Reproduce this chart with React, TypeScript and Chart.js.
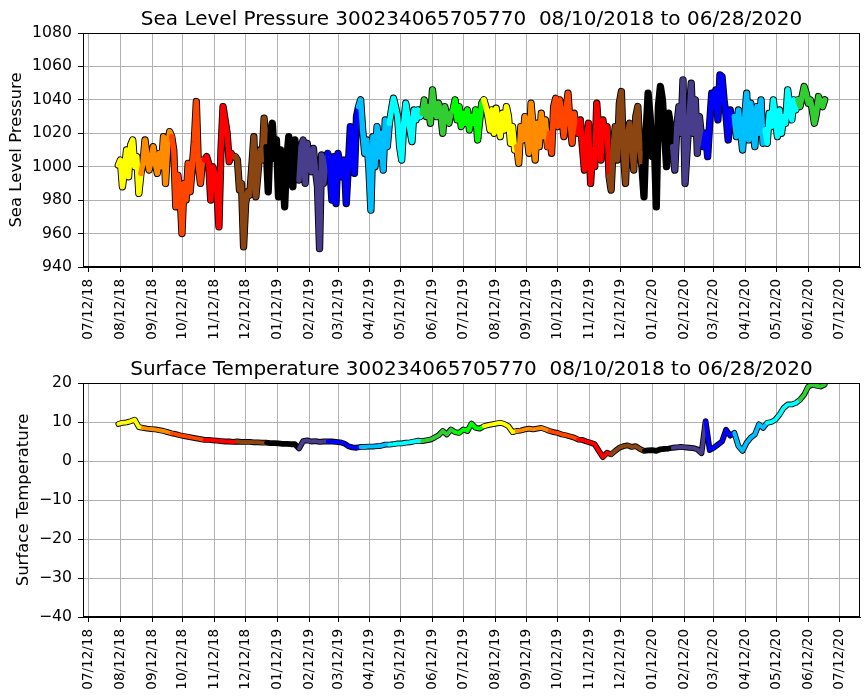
import { useEffect, useRef } from 'react';
import { Chart, registerables } from 'chart.js';

Chart.register(...registerables);

const FONT = "'DejaVu Sans', 'Liberation Sans', sans-serif";

const buoyId = '300234065705770';
const periodText = '08/10/2018 to 06/28/2020';
const pressureStepDays = 2;
const temperatureStepDays = 4;

// matplotlib colours, index 0 = January
const monthColors = [
  '#000000', '#483D8B', '#0000FF', '#00BFFF', '#00FFFF', '#32CD32',
  '#00FF00', '#FFFF00', '#FF8C00', '#FF4500', '#FF0000', '#8B4513',
];

const xTickLabels = [
  '07/12/18', '08/12/18', '09/12/18', '10/12/18', '11/12/18', '12/12/18',
  '01/12/19', '02/12/19', '03/12/19', '04/12/19', '05/12/19', '06/12/19',
  '07/12/19', '08/12/19', '09/12/19', '10/12/19', '11/12/19', '12/12/19',
  '01/12/20', '02/12/20', '03/12/20', '04/12/20', '05/12/20', '06/12/20',
  '07/12/20',
];

const pressureTicks = [940, 960, 980, 1000, 1020, 1040, 1060, 1080];
const temperatureTicks = [-40, -30, -20, -10, 0, 10, 20];

// Sea level pressure, every 2 days from 08/10/2018
const pressure = [
  // Aug 2018
  1001, 1004, 988, 998, 1010, 994, 1013, 1016, 1000, 1006, 984,
  // Sep 2018
  996, 1002, 1016, 1006, 998, 1004, 1012, 1002, 996, 1008, 1000, 1018, 990, 1012, 1021,
  // Oct 2018
  1018, 1010, 976, 995, 985, 960, 990, 980, 1002, 985, 1000, 1015, 1039, 1000, 990, 1004,
  // Nov 2018
  1004, 1006, 1002, 980, 1000, 996, 985, 964, 1010, 1036, 1028, 1020, 1003, 1008, 1006,
  // Dec 2018
  1006, 1004, 986, 990, 952, 978, 985, 983, 1000, 1018, 982, 996, 1010, 1004, 1029,
  // Jan 2019
  1012, 985, 1020, 1026, 1005, 1016, 982, 1010, 1000, 976, 1004, 1018, 995, 988, 1016, 1002,
  // Feb 2019
  992, 1012, 1016, 990, 1014, 1004, 997, 1011, 998, 988, 951, 1007, 990, 1000,
  // Mar 2019
  1008, 1000, 980, 1006, 978, 1008, 1000, 994, 1004, 978, 1000, 1024, 1008, 996, 1030,
  // Apr 2019
  1036, 1040, 1022, 1008, 1016, 1000, 974, 1018, 1000, 1024, 1006, 1020, 998, 1028, 1012,
  // May 2019
  1026, 1034, 1041, 1036, 1030, 1012, 1004, 1026, 1038, 1030, 1022, 1015, 1034, 1028, 1034, 1030,
  // Jun 2019
  1032, 1040, 1030, 1036, 1026, 1046, 1034, 1030, 1038, 1032, 1020, 1036, 1030, 1026, 1032,
  // Jul 2019
  1034, 1040, 1028, 1036, 1024, 1032, 1026, 1034, 1022, 1030, 1026, 1034, 1016, 1028, 1038,
  // Aug 2019
  1040, 1036, 1030, 1022, 1034, 1020, 1035, 1026, 1018, 1032, 1022, 1036, 1030, 1014, 1024, 1010,
  // Sep 2019
  1012, 1002, 1024, 1016, 1030, 1020, 1008, 1038, 1024, 1004, 1026, 1012, 1032, 1018, 1028,
  // Oct 2019
  1012, 1020, 1008, 1036, 1041, 1024, 1040, 1030, 1018, 1034, 1044, 1026, 1014, 1032, 1022,
  // Nov 2019
  1020, 1028, 1012, 998, 1016, 1026, 990, 1010, 1000, 1038, 1020, 1004, 1028, 1018, 1024,
  // Dec 2019
  994, 986, 1012, 1024, 1004, 1038, 1045, 1008, 990, 1020, 1026, 1014, 998, 1030, 1036, 1010,
  // Jan 2020
  1000, 982, 1020, 1044, 1030, 1006, 1016, 976, 1036, 1048, 1040, 1020, 1000, 1032, 1024,
  // Feb 2020
  1012, 998, 1024, 1036, 1020, 1052, 990, 1010, 1030, 1050, 1020, 1040, 1008, 1030, 1018,
  // Mar 2020
  1012, 1020, 1006, 1026, 1044, 1036, 1046, 1028, 1055, 1054, 1040, 1030, 1016, 1034, 1026,
  // Apr 2020
  1030, 1018, 1034, 1022, 1010, 1028, 1044, 1016, 1038, 1024, 1012, 1036, 1020, 1040, 1014,
  // May 2020
  1022, 1014, 1032, 1024, 1040, 1028, 1018, 1034, 1020, 1030, 1026, 1046, 1036, 1028, 1040, 1034,
  // Jun 2020
  1040, 1036, 1042, 1048, 1044, 1038, 1040, 1034, 1026, 1032, 1042, 1038, 1036, 1040,
];

// Surface temperature, every 4 days from 08/10/2018
const temperature = [
  9.5, 9.8, 9.9, 10.2, 10.6, 8.7, // Aug 2018
  8.5, 8.3, 8.2, 8.1, 7.9, 7.7, 7.4, // Sep
  7.1, 6.9, 6.6, 6.4, 6.2, 6.0, 5.8, 5.6, // Oct
  5.4, 5.4, 5.3, 5.2, 5.1, 5.0, 5.0, 4.9, // Nov
  5.0, 4.9, 4.9, 4.9, 4.8, 4.8, 4.7, // Dec
  4.7, 4.6, 4.6, 4.5, 4.4, 4.4, 4.3, 4.3, // Jan 2019
  3.2, 5.1, 5.3, 5.0, 5.1, 4.9, 5.0, // Feb
  5.0, 5.0, 4.9, 4.8, 4.5, 3.8, 3.5, 3.4, // Mar
  3.6, 3.6, 3.7, 3.7, 3.8, 3.9, 4.2, // Apr
  4.2, 4.3, 4.5, 4.5, 4.7, 4.8, 5.0, 5.2, // May
  5.1, 5.3, 5.5, 6.0, 6.6, 7.7, 6.8, 8.1, // Jun
  7.4, 7.2, 8.1, 7.7, 9.6, 8.5, 8.3, // Jul
  8.9, 9.2, 9.4, 9.6, 9.8, 9.5, 8.9, 7.4, // Aug
  7.7, 7.8, 8.1, 8.3, 8.1, 8.3, 8.5, 8.1, // Sep
  7.7, 7.4, 7.2, 6.8, 6.6, 6.3, 6.0, // Oct
  5.5, 5.4, 5.0, 4.7, 4.3, 2.6, 1.0, 2.1, // Nov
  1.7, 2.6, 3.4, 3.8, 4.0, 3.6, 3.8, 3.1, // Dec
  2.6, 2.7, 2.8, 2.6, 3.0, 3.1, 3.2, // Jan 2020
  3.4, 3.5, 3.6, 3.5, 3.4, 3.3, 3.0, 2.0, // Feb
  10.2, 2.8, 3.4, 4.2, 5.0, 8.0, 6.5, // Mar
  7.2, 3.8, 2.6, 4.7, 6.0, 6.8, 9.4, 8.5, // Apr
  9.8, 10.0, 10.6, 11.9, 13.6, 14.5, 14.5, 14.9, // May
  15.7, 17.0, 19.1, 19.6, 19.3, 19.1, 19.6, // Jun
];

const MS_DAY = 86400000;
const ORIGIN = Date.UTC(2018, 6, 12);
const dayOf = (y: number, m: number, d: number) => (Date.UTC(y, m - 1, d) - ORIGIN) / MS_DAY;
const labelToDay = (s: string) => {
  const [mm, dd, yy] = s.split('/').map(Number);
  return dayOf(2000 + yy, mm, dd);
};
const colorOfDay = (day: number) => monthColors[new Date(ORIGIN + day * MS_DAY).getUTCMonth()];

const startDay = dayOf(2018, 8, 10);
const endDay = dayOf(2020, 6, 28);
const margin = (endDay - startDay) * 0.05;
const xTickDays = xTickLabels.map(labelToDay);

const fmt = (v: number) => (v < 0 ? '\u2212' + Math.abs(v) : String(v));

function makeConfig(
  title: string,
  yLabel: string,
  values: number[],
  step: number,
  yTicks: number[],
  yTitlePad: number,
  lineW: number,
): any {
  const pts = values.map((v, i) => ({ x: startDay + i * step, y: v }));
  const titlePlugin = {
    id: 'axTitle',
    afterDraw(chart: any) {
      const { ctx, chartArea: a } = chart;
      ctx.save();
      ctx.font = `20px ${FONT}`;
      ctx.fillStyle = '#000';
      ctx.textAlign = 'center';
      ctx.textBaseline = 'alphabetic';
      ctx.fillText(title, (a.left + a.right) / 2, 25);
      ctx.restore();
    },
  };
  const framePlugin = {
    id: 'frame',
    afterDatasetsDraw(chart: any) {
      const { ctx, chartArea: a } = chart;
      ctx.save();
      ctx.strokeStyle = '#000';
      ctx.lineWidth = 1;
      ctx.strokeRect(Math.round(a.left) + 0.5, Math.round(a.top) + 0.5, Math.round(a.width) - 1, Math.round(a.height) - 1);
      ctx.restore();
    },
  };
  const grid = { color: '#b0b0b0', lineWidth: 1, tickColor: '#000', tickLength: 5, drawTicks: true };
  return {
    type: 'line',
    data: {
      datasets: [
        {
          data: pts,
          borderColor: '#000',
          segment: { borderColor: (c: any) => colorOfDay(c.p0.parsed.x) },
          borderWidth: lineW,
          pointRadius: 0,
          borderJoinStyle: 'round',
          borderCapStyle: 'round',
          tension: 0,
          fill: false,
          order: 0,
        },
        {
          data: pts,
          borderColor: '#000',
          borderWidth: lineW + 1.8,
          pointRadius: 0,
          borderJoinStyle: 'round',
          borderCapStyle: 'round',
          tension: 0,
          fill: false,
          order: 1,
        },
      ],
    },
    options: {
      responsive: false,
      animation: false,
      events: [],
      layout: { padding: { left: 0, right: 7, top: 33, bottom: 0 } },
      plugins: { legend: { display: false }, tooltip: { enabled: false }, title: { display: false } },
      scales: {
        x: {
          type: 'linear',
          min: startDay - margin,
          max: endDay + margin,
          afterBuildTicks: (s: any) => {
            s.ticks = xTickDays.map((v) => ({ value: v }));
          },
          afterFit: (s: any) => {
            s.height = 83;
          },
          ticks: {
            autoSkip: false,
            minRotation: 90,
            maxRotation: 90,
            padding: 7,
            color: '#000',
            font: { family: FONT, size: 13.5 },
            callback: (_v: any, i: number) => xTickLabels[i],
          },
          grid,
          border: { color: '#000', width: 1 },
        },
        y: {
          type: 'linear',
          min: yTicks[0],
          max: yTicks[yTicks.length - 1],
          afterBuildTicks: (s: any) => {
            s.ticks = yTicks.map((v) => ({ value: v }));
          },
          afterFit: (s: any) => {
            s.width = 83;
          },
          ticks: {
            padding: 6,
            color: '#000',
            font: { family: FONT, size: 15.7 },
            callback: (v: any) => fmt(Number(v)),
          },
          grid,
          border: { color: '#000', width: 1 },
          title: {
            display: true,
            text: yLabel,
            color: '#000',
            font: { family: FONT, size: 16.5 },
            padding: { top: yTitlePad, bottom: 0 },
          },
        },
      },
    },
    plugins: [titlePlugin, framePlugin],
  };
}

function Panel({ config }: { config: () => any }) {
  const ref = useRef<HTMLCanvasElement | null>(null);
  useEffect(() => {
    if (!ref.current) return;
    const chart = new Chart(ref.current, config());
    return () => chart.destroy();
  }, []);
  return <canvas ref={ref} width={867} height={350} style={{ display: 'block', width: 867, height: 350 }} />;
}

export default function App() {
  useEffect(() => {
    document.body.style.margin = '0';
  }, []);
  return (
    <div style={{ position: 'absolute', left: 0, top: 0, width: 867, height: 700, background: '#fff' }}>
      <Panel
        config={() =>
          makeConfig(
            `Sea Level Pressure ${buoyId}  ${periodText}`,
            'Sea Level Pressure',
            pressure,
            pressureStepDays,
            pressureTicks,
            7,
            5.5,
          )
        }
      />
      <Panel
        config={() =>
          makeConfig(
            `Surface Temperature ${buoyId}  ${periodText}`,
            'Surface Temperature',
            temperature,
            temperatureStepDays,
            temperatureTicks,
            13.5,
            4,
          )
        }
      />
    </div>
  );
}
